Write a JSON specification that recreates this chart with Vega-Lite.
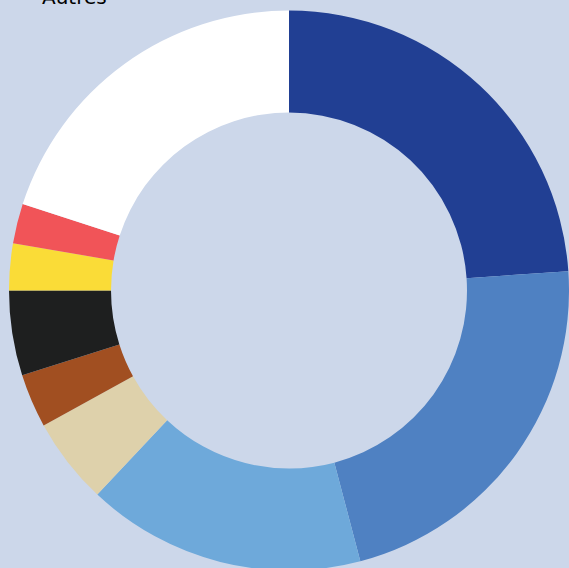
{
  "$schema": "https://vega.github.io/schema/vega-lite/v6.json",
  "width": 560,
  "height": 555,
  "autosize": {"type": "none"},
  "padding": {"left": 9, "top": 13, "right": 0, "bottom": 0},
  "background": "#CCD7EA",
  "title": {"text": "Autres", "anchor": "start", "frame": "group", "fontSize": 20, "font": "DejaVu Sans", "fontWeight": "normal", "color": "#000000", "dx": 33, "offset": 0, "baseline": "alphabetic", "dy": 13},
  "config": {"view": {"stroke": null}},
  "data": {
    "values": [
      {"categorie": "Groupe 1", "part": 23.9, "ordre": 1},
      {"categorie": "Groupe 2", "part": 22.0, "ordre": 2},
      {"categorie": "Groupe 3", "part": 16.1, "ordre": 3},
      {"categorie": "Groupe 4", "part": 5.0, "ordre": 4},
      {"categorie": "Groupe 5", "part": 3.1, "ordre": 5},
      {"categorie": "Groupe 6", "part": 4.9, "ordre": 6},
      {"categorie": "Groupe 7", "part": 2.7, "ordre": 7},
      {"categorie": "Groupe 8", "part": 2.3, "ordre": 8},
      {"categorie": "Autres", "part": 20.0, "ordre": 9}
    ]
  },
  "mark": {"type": "arc", "outerRadius": 280, "innerRadius": 178},
  "encoding": {
    "theta": {"field": "part", "type": "quantitative", "stack": true},
    "order": {"field": "ordre", "type": "quantitative"},
    "color": {
      "field": "categorie",
      "type": "nominal",
      "legend": null,
      "scale": {
        "domain": ["Groupe 1", "Groupe 2", "Groupe 3", "Groupe 4", "Groupe 5", "Groupe 6", "Groupe 7", "Groupe 8", "Autres"],
        "range": ["#213F93", "#4F81C2", "#6EA9DA", "#DED1AB", "#A14F21", "#1E1F1F", "#FADC37", "#F15458", "#FFFFFF"]
      }
    }
  }
}
